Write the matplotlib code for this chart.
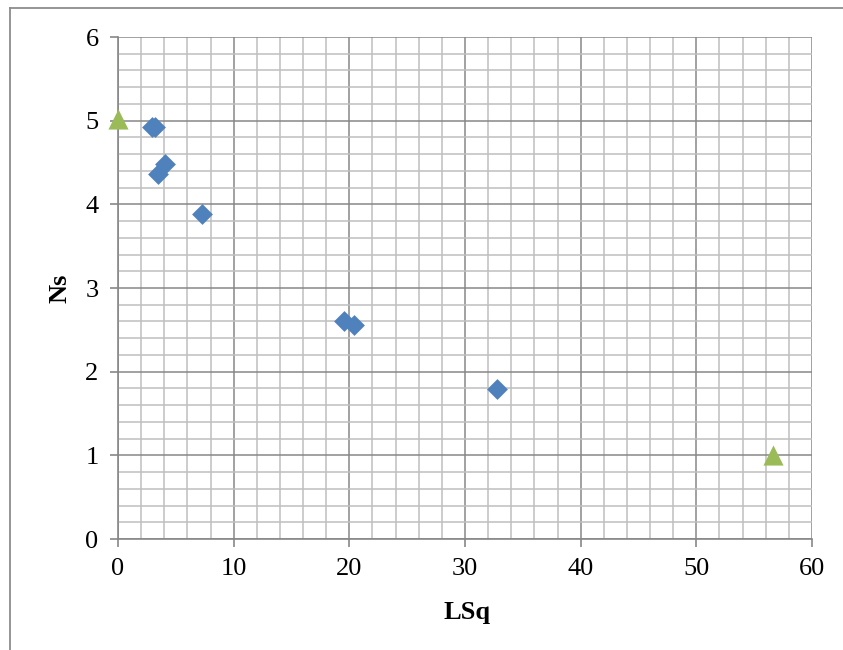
import matplotlib
matplotlib.use("Agg")
import matplotlib.pyplot as plt
from matplotlib.lines import Line2D
from matplotlib.ticker import MultipleLocator

# Data
blue_x = [2.95, 3.2, 3.45, 4.05, 7.25, 19.55, 20.4, 32.75]
blue_y = [4.93, 4.93, 4.36, 4.48, 3.88, 2.61, 2.56, 1.79]
green_x = [0.0, 56.6]
green_y = [5.02, 1.00]
x_label = "LSq"
y_label = "Ns"

W, H = 843, 650
fig = plt.figure(figsize=(W / 100, H / 100), dpi=100)
plt.rcParams['font.family'] = ['Liberation Serif', 'DejaVu Serif']

ax = fig.add_axes([118 / W, (H - 539) / H, (812 - 118) / W, (539 - 37) / H])
ax.set_xlim(0, 60)
ax.set_ylim(0, 6)
ax.xaxis.set_major_locator(MultipleLocator(10))
ax.xaxis.set_minor_locator(MultipleLocator(2))
ax.yaxis.set_major_locator(MultipleLocator(1))
ax.yaxis.set_minor_locator(MultipleLocator(0.2))

ax.grid(which='minor', color='#BFBFBF', linewidth=1.1)
ax.grid(which='major', color='#878787', linewidth=1.1)
ax.set_axisbelow(True)

for s in ['left', 'bottom']:
    ax.spines[s].set_color('#878787')
    ax.spines[s].set_linewidth(1.2)
for s in ['top', 'right']:
    ax.spines[s].set_visible(False)

ax.tick_params(which='major', direction='out', length=6, width=1.2, color='#878787',
               labelsize=19, pad=8)
ax.tick_params(which='minor', length=0)
ax.tick_params(axis='x', pad=8)

ax.scatter(blue_x, blue_y, marker='D', s=10.6 ** 2, color='#4F81BD', zorder=3, linewidths=0)
ax.scatter(green_x, green_y, marker='^', s=14.5 ** 2, color='#9BBB59', zorder=3,
           linewidths=0, clip_on=False)

fig.text(467 / W, 1 - 612 / H, x_label, ha='center', va='center', fontsize=19,
         fontweight='bold')
fig.text(60 / W, 1 - 288 / H, y_label, ha='center', va='center', fontsize=19,
         fontweight='bold', rotation=90)

# outer chart border
fig.add_artist(Line2D([10 / W, 1.0], [1 - 8 / H, 1 - 8 / H], transform=fig.transFigure,
                      color='#8C8C8C', linewidth=1.3))
fig.add_artist(Line2D([10 / W, 10 / W], [0, 1 - 8 / H], transform=fig.transFigure,
                      color='#8C8C8C', linewidth=1.3))

fig.savefig("out.png", dpi=100)
